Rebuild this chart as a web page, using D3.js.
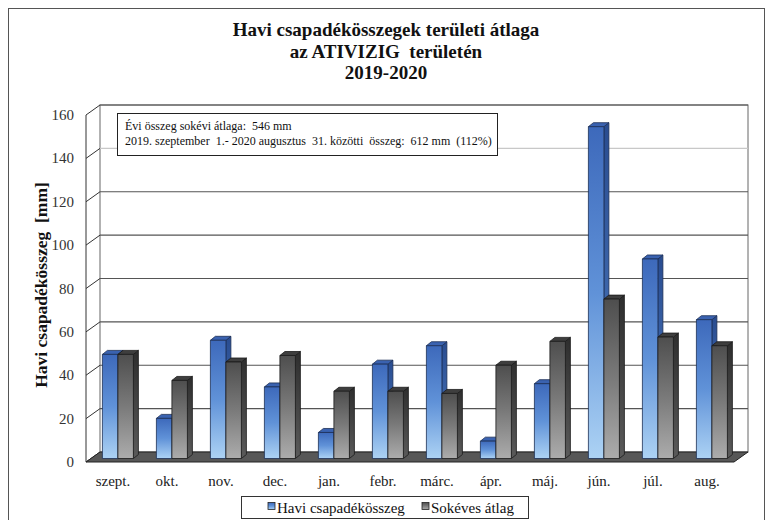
<!DOCTYPE html>
<html>
<head>
<meta charset="utf-8">
<script src="https://cdn.jsdelivr.net/npm/d3@7"></script>
<style>
  body { margin: 0; background: #fff; }
  svg { display: block; }
</style>
</head>
<body>
<div id="chart"></div>
<script>
// havi csapadek adatok (mm)
const months = ["szept.", "okt.", "nov.", "dec.", "jan.", "febr.", "márc.", "ápr.", "máj.", "jún.", "júl.", "aug."];
const havi = [48, 18.5, 54.5, 33, 12, 43.5, 52, 8, 34.5, 153, 92, 64];
const sokeves = [48, 36, 44.5, 47.5, 31, 31, 30, 43, 54, 73.5, 56, 52];
const yTicks = [0, 20, 40, 60, 80, 100, 120, 140, 160];
const seriesNames = ["Havi csapadékösszeg", "Sokéves átlag"];
const titleLines = ["Havi csapadékösszegek területi átlaga", "az ATIVIZIG  területén", "2019-2020"];
const noteLines = ["Évi összeg sokévi átlaga:  546 mm",
  "2019. szeptember  1.- 2020 augusztus  31. közötti  összeg:  612 mm  (112%)"];

const W = 771, H = 520;
const serif = "'Liberation Serif', 'Times New Roman', serif";
const svg = d3.select("#chart").append("svg").attr("width", W).attr("height", H);

// 3d geometry
const plotLeft = 86, plotRight = 734, floorY = 462, plotTop = 115;
const depthX = 14, depthY = -10;      // back wall offset
const barOffX = 4.9, barOffY = -3.5;  // bar front plane
const barDX = 5, barDY = -4;          // bar depth

const x = d3.scaleBand().domain(months).range([plotLeft, plotRight]);
const xs = d3.scaleBand().domain(seriesNames).range([11.5, 42.5]);
const yFront = d3.scaleLinear().domain([0, 160]).range([floorY, plotTop]);
const yBack = v => yFront(v) + depthY;

const defs = svg.append("defs");
function grad(id, stops) {
  const g = defs.append("linearGradient").attr("id", id)
    .attr("x1", 0).attr("y1", 0).attr("x2", 0).attr("y2", 1);
  stops.forEach(s => g.append("stop").attr("offset", s[0]).attr("stop-color", s[1]));
}
grad("blueFront", [[0, "#3d69bb"], [0.5, "#6092d8"], [1, "#acd2f4"]]);
grad("blueSide", [[0, "#294c90"], [1, "#4f7ec4"]]);
grad("grayFront", [[0, "#4e4e4e"], [0.5, "#7a7a7a"], [1, "#acacac"]]);
grad("graySide", [[0, "#2e2e2e"], [1, "#5a5a5a"]]);

// outer frame
svg.append("rect").attr("x", 8.5).attr("y", 8.5).attr("width", 756).attr("height", 520)
  .attr("fill", "none").attr("stroke", "#555");

// title
svg.append("g").selectAll("text").data(titleLines).join("text")
  .attr("x", 386).attr("y", (d, i) => 36 + i * 21.5)
  .attr("text-anchor", "middle").attr("font-size", 19).attr("font-weight", "bold")
  .style("white-space", "pre").attr("fill", "#111").text(d => d);

// back wall
const bx0 = plotLeft + depthX, bx1 = plotRight + depthX;
svg.append("rect").attr("x", bx0).attr("y", yBack(160)).attr("width", bx1 - bx0)
  .attr("height", yBack(0) - yBack(160)).attr("fill", "#fff").attr("stroke", "#666");

// gridlines
svg.append("g").selectAll("line").data(yTicks.filter(t => t > 0)).join("line")
  .attr("x1", bx0).attr("x2", bx1).attr("y1", d => yBack(d)).attr("y2", d => yBack(d))
  .attr("stroke", d => d === 140 ? "#c8c8c8" : "#555").attr("stroke-width", 1.2);

// left wall
svg.append("line").attr("x1", plotLeft).attr("x2", plotLeft).attr("y1", yFront(160)).attr("y2", yFront(0))
  .attr("stroke", "#333");
svg.append("g").selectAll("line").data(yTicks).join("line")
  .attr("x1", plotLeft).attr("y1", d => yFront(d)).attr("x2", bx0).attr("y2", d => yBack(d))
  .attr("stroke", "#333");

// floor
svg.append("path")
  .attr("d", `M${plotLeft},${floorY}L${plotRight},${floorY}L${bx1},${yBack(0)}L${bx0},${yBack(0)}Z`)
  .attr("fill", "#575757").attr("stroke", "#222");

// y tick labels
svg.append("g").selectAll("text").data(yTicks).join("text")
  .attr("x", 74).attr("y", d => yFront(d) + 5).attr("text-anchor", "end")
  .attr("font-size", 15).attr("fill", "#333").text(d => d);

// y title
svg.append("text").attr("transform", "translate(47,285) rotate(-90)")
  .attr("text-anchor", "middle").attr("font-size", 17.5).attr("font-weight", "bold")
  .style("white-space", "pre").attr("fill", "#111").text("Havi csapadékösszeg  [mm]");

// bars
const y0 = floorY + barOffY;
const fills = {
  [seriesNames[0]]: { front: "url(#blueFront)", side: "url(#blueSide)", top: "#3a62b0", edge: "#1c2f55" },
  [seriesNames[1]]: { front: "url(#grayFront)", side: "url(#graySide)", top: "#3e3e3e", edge: "#1a1a1a" }
};
const barW = xs.bandwidth();
const bars = svg.append("g");
months.forEach((m, i) => {
  [[seriesNames[0], havi[i]], [seriesNames[1], sokeves[i]]].forEach(([s, v]) => {
    const bx = x(m) + xs(s) + barOffX;
    const by = y0 - (yFront(0) - yFront(v));
    const f = fills[s];
    const g = bars.append("g").attr("stroke", f.edge).attr("stroke-width", 0.8).attr("stroke-linejoin", "round");
    g.append("path")
      .attr("d", `M${bx + barW},${by}L${bx + barW + barDX},${by + barDY}L${bx + barW + barDX},${y0 + barDY}L${bx + barW},${y0}Z`)
      .attr("fill", f.side);
    g.append("path")
      .attr("d", `M${bx},${by}L${bx + barDX},${by + barDY}L${bx + barW + barDX},${by + barDY}L${bx + barW},${by}Z`)
      .attr("fill", f.top);
    g.append("rect").attr("x", bx).attr("y", by).attr("width", barW).attr("height", y0 - by)
      .attr("fill", f.front);
  });
});

// x labels
svg.append("g").selectAll("text").data(months).join("text")
  .attr("x", d => x(d) + x.bandwidth() / 2).attr("y", 486).attr("text-anchor", "middle")
  .attr("font-size", 15).attr("fill", "#222").text(d => d);

// note box
svg.append("rect").attr("x", 117.5).attr("y", 113.5).attr("width", 380).attr("height", 42)
  .attr("fill", "#fff").attr("stroke", "#222");
svg.append("g").selectAll("text").data(noteLines).join("text")
  .attr("x", 125).attr("y", (d, i) => 130 + i * 14.5).attr("font-size", 12)
  .style("white-space", "pre").attr("fill", "#111").text(d => d);

// legend
const lg = svg.append("g");
lg.append("rect").attr("x", 241.5).attr("y", 496.5).attr("width", 287).attr("height", 22)
  .attr("fill", "#fff").attr("stroke", "#333");
const legendX = [268, 422];
const legendFill = ["url(#blueFront)", "url(#grayFront)"];
seriesNames.forEach((s, i) => {
  lg.append("rect").attr("x", legendX[i]).attr("y", 502.5).attr("width", 7).attr("height", 7)
    .attr("fill", legendFill[i]).attr("stroke", "#222").attr("stroke-width", 0.8);
  lg.append("text").attr("x", legendX[i] + 9).attr("y", 512.5).attr("font-size", 15)
    .attr("fill", "#111").text(s);
});

// every label in the serif face
svg.selectAll("text").style("font-family", serif);
</script>
</body>
</html>
